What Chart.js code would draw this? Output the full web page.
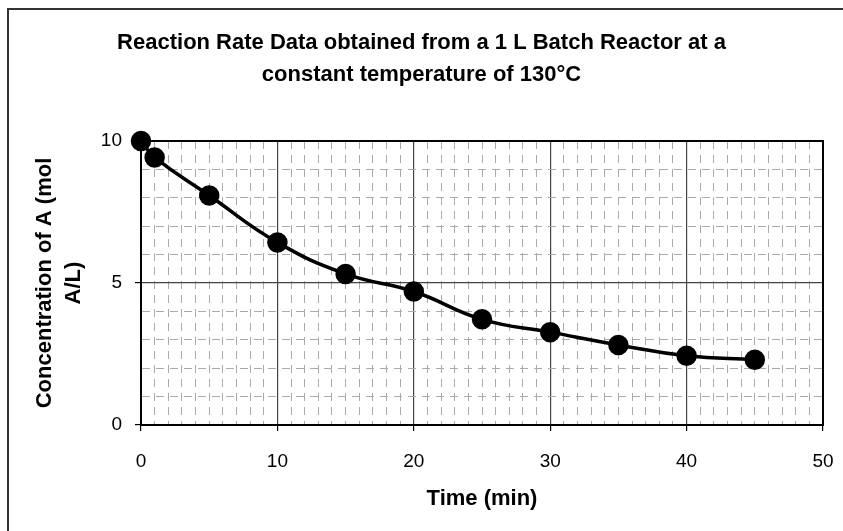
<!DOCTYPE html>
<html>
<head>
<meta charset="utf-8">
<script src="https://cdn.jsdelivr.net/npm/chart.js@4"></script>
<style>
  html, body { margin: 0; padding: 0; background: #fff; }
  #wrap { width: 843px; height: 531px; }
</style>
</head>
<body>
<div id="wrap"><canvas id="chart" width="843" height="531"></canvas></div>
<script>
// Данные реактора
const timeMin = [0, 1, 5, 10, 15, 20, 25, 30, 35, 40, 45];
const concA = [10, 9.42, 8.08, 6.43, 5.32, 4.7, 3.72, 3.27, 2.82, 2.44, 2.3];
const titleLines = ['Reaction Rate Data obtained from a 1 L Batch Reactor at a', 'constant temperature of 130°C'];
const yTitleLines = ['Concentration of A (mol', 'A/L)'];
const xTitle = 'Time (min)';
const xRange = [0, 50];
const yRange = [0, 10];
const xMajor = 10;
const yMajor = 5;

const FONT = '"Liberation Sans", Arial, sans-serif';

// рамка вокруг всего графика и вокруг области построения
const framePlugin = {
  id: 'frame',
  beforeDraw(chart) {
    const ctx = chart.ctx;
    ctx.save();
    ctx.fillStyle = '#fff';
    ctx.fillRect(0, 0, chart.width, chart.height);
    ctx.strokeStyle = '#333';
    ctx.lineWidth = 2;
    ctx.strokeRect(8, 9, chart.width + 10, chart.height + 10);
    ctx.restore();
  },
  beforeDatasetsDraw(chart) {
    const { ctx, chartArea: a } = chart;
    ctx.save();
    ctx.strokeStyle = '#000';
    ctx.lineWidth = 2;
    ctx.strokeRect(a.left, a.top, a.right - a.left, a.bottom - a.top);
    ctx.restore();
  },
};

const isMajor = (v, step) => Math.abs(v / step - Math.round(v / step)) < 1e-6;

new Chart(document.getElementById('chart'), {
  type: 'scatter',
  data: {
    datasets: [{
      data: timeMin.map((t, i) => ({ x: t, y: concA[i] })),
      showLine: true,
      borderColor: '#000',
      backgroundColor: '#000',
      borderWidth: 3.5,
      pointRadius: 8.5,
      pointHoverRadius: 8.5,
      tension: 0.45,
      clip: false,
    }],
  },
  options: {
    animation: false,
    responsive: false,
    events: [],
    layout: { padding: 0 },
    plugins: {
      legend: { display: false },
      tooltip: { enabled: false },
      title: {
        display: true,
        text: titleLines,
        color: '#000',
        font: { family: FONT, size: 22, weight: 'bold', lineHeight: 32 / 22 },
        padding: { top: 27, bottom: 50 },
      },
    },
    scales: {
      x: {
        type: 'linear',
        min: xRange[0],
        max: xRange[1],
        afterBuildTicks(scale) {
          const t = [];
          for (let v = xRange[0]; v <= xRange[1]; v++) t.push({ value: v });
          scale.ticks = t;
        },
        afterFit(scale) {
          scale.height = 106;
          scale.paddingLeft = 0;
          scale.paddingRight = 20;
        },
        ticks: {
          autoSkip: false,
          maxRotation: 0,
          padding: 19,
          color: '#000',
          font: { family: FONT, size: 19 },
          callback: (v) => (isMajor(v, xMajor) ? String(v) : ''),
        },
        grid: {
          drawOnChartArea: true,
          tickLength: 6,
          color: (c) => (c.tick && isMajor(c.tick.value, xMajor) ? '#444' : '#aaa'),
          lineWidth: (c) => (c.tick && isMajor(c.tick.value, xMajor) ? 1.2 : 1),
          tickColor: (c) => (c.tick && isMajor(c.tick.value, xMajor) ? '#000' : 'rgba(0,0,0,0)'),
          tickWidth: 1.2,
        },
        border: {
          color: '#000',
          width: 2,
          dash: (c) => (c.tick && !isMajor(c.tick.value, xMajor) ? [8, 6] : []),
        },
        title: {
          display: true,
          text: xTitle,
          color: '#000',
          font: { family: FONT, size: 22, weight: 'bold' },
          padding: { top: 0, bottom: 19 },
        },
      },
      y: {
        type: 'linear',
        min: yRange[0],
        max: yRange[1],
        afterBuildTicks(scale) {
          const t = [];
          for (let v = yRange[0]; v <= yRange[1]; v++) t.push({ value: v });
          scale.ticks = t;
        },
        afterFit(scale) { scale.width = 141; },
        ticks: {
          autoSkip: false,
          padding: 13,
          color: '#000',
          font: { family: FONT, size: 19 },
          callback: (v) => (isMajor(v, yMajor) ? String(v) : ''),
        },
        grid: {
          tickLength: 6,
          color: (c) => (c.tick && isMajor(c.tick.value, yMajor) ? '#444' : '#aaa'),
          lineWidth: (c) => (c.tick && isMajor(c.tick.value, yMajor) ? 1.2 : 1),
          tickColor: (c) => (c.tick && isMajor(c.tick.value, yMajor) ? '#000' : 'rgba(0,0,0,0)'),
          tickWidth: 1.2,
        },
        border: {
          color: '#000',
          width: 2,
          dash: (c) => (c.tick && !isMajor(c.tick.value, yMajor) ? [8, 6] : []),
        },
        title: {
          display: true,
          text: yTitleLines,
          color: '#000',
          font: { family: FONT, size: 22, weight: 'bold', lineHeight: 29 / 22 },
          padding: { top: 30, bottom: 0 },
        },
      },
    },
  },
  plugins: [framePlugin],
});
</script>
</body>
</html>
